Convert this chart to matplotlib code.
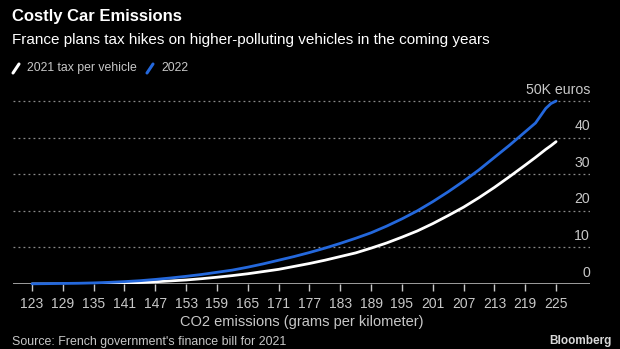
import matplotlib
matplotlib.use("Agg")
import matplotlib.pyplot as plt
from matplotlib.lines import Line2D
from matplotlib.transforms import blended_transform_factory

# ── data (thousand euros per vehicle) ─────────────────────────────────────────
co2 = [123, 126, 129, 132, 135, 138, 141, 144, 147, 150, 153, 156, 159, 162,
       165, 168, 171, 174, 177, 180, 183, 186, 189, 192, 195, 198, 201, 204,
       207, 210, 213, 216, 219, 221, 222, 223, 224, 225]
tax_2021 = [0.0, 0.0, 0.02, 0.05, 0.1, 0.15, 0.25, 0.4, 0.6, 0.85, 1.1, 1.45,
            1.85, 2.3, 2.8, 3.4, 4.0, 4.8, 5.6, 6.5, 7.5, 8.5, 9.8, 11.2, 12.8,
            14.5, 16.5, 18.7, 21.0, 23.6, 26.4, 29.4, 32.5, 34.6, 35.7, 36.8,
            37.8, 38.9]
tax_2022 = [0.05, 0.1, 0.15, 0.2, 0.3, 0.45, 0.65, 0.9, 1.25, 1.65, 2.1, 2.6,
            3.2, 3.8, 4.6, 5.5, 6.5, 7.5, 8.6, 9.8, 11.1, 12.5, 14.0, 15.8,
            17.8, 20.0, 22.5, 25.2, 28.1, 31.2, 34.6, 38.0, 41.6, 44.0, 46.0,
            48.0, 49.3, 50.0]
xticks = list(range(123, 226, 6))
yticks = [0, 10, 20, 30, 40, 50]
ylabels = ["0", "10", "20", "30", "40", "50K euros"]

BG = "black"
WHITE = "white"
BLUE = "#2468dc"
GREY = "#c8c8c8"

plt.rcParams["font.family"] = ["Liberation Sans", "DejaVu Sans"]

W, H = 620, 349
fig = plt.figure(figsize=(W / 100, H / 100), dpi=100, facecolor=BG)


def fx(px):
    return px / W


def fy(py):
    return 1 - py / H


# axes: x pixels 13..590, y=0 at 284px, 52 at ~93.7px
ax = fig.add_axes([fx(13), fy(284), fx(590) - fx(13), fy(93.7) - fy(284)])
ax.set_facecolor(BG)
ax.set_xlim(119.3, 231.6)
ax.set_ylim(0, 52)

for s in ax.spines.values():
    s.set_visible(False)

# dotted gridlines + solid baseline
for v in yticks[1:]:
    ax.axhline(v, color="#8a8a8a", lw=0.9, ls=(0, (1.5, 2.5)), zorder=1)
ax.axhline(0, color=GREY, lw=1.1, zorder=2)

ax.plot(co2, tax_2021, color=WHITE, lw=2.0, zorder=3, solid_capstyle="round")
ax.plot(co2, tax_2022, color=BLUE, lw=2.0, zorder=4, solid_capstyle="round",
        clip_on=False)

ax.set_xticks(xticks)
ax.set_xticklabels([str(t) for t in xticks])
ax.tick_params(axis="x", colors=GREY, length=5, width=1, labelsize=10, pad=4)
ax.set_yticks([])

# y labels sit just above their gridline, right aligned
tr = blended_transform_factory(ax.transAxes, ax.transData)
for v, lab in zip(yticks, ylabels):
    ax.text(1.0, v + 1.2, lab, transform=tr, ha="right", va="bottom",
            color=GREY, fontsize=10.2)

ax.set_xlabel("CO2 emissions (grams per kilometer)", color=GREY, fontsize=10.5,
              labelpad=3)

# titles
fig.text(fx(12), fy(17), "Costly Car Emissions", color=WHITE, fontsize=12,
         fontweight="bold", va="center", ha="left")
fig.text(fx(12), fy(40), "France plans tax hikes on higher-polluting vehicles in the coming years",
         color=WHITE, fontsize=11, va="center", ha="left")

# legend
for x0, col, lab in [(12, WHITE, "2021 tax per vehicle"), (146, BLUE, "2022")]:
    fig.add_artist(Line2D([fx(x0 + 1), fx(x0 + 7)], [fy(73), fy(64)], color=col,
                          lw=2.2, solid_capstyle="round"))
    fig.text(fx(x0 + 15), fy(68), lab, color=GREY, fontsize=8.8, va="center",
             ha="left")

fig.text(fx(12), fy(342), "Source: French government's finance bill for 2021",
         color=GREY, fontsize=8.9, va="center", ha="left")
fig.text(fx(549), fy(341), "Bloomberg", color="#d8d8d8", fontsize=8.5,
         fontweight="bold", va="center", ha="left")

fig.savefig("out.png", dpi=100, facecolor=BG)
